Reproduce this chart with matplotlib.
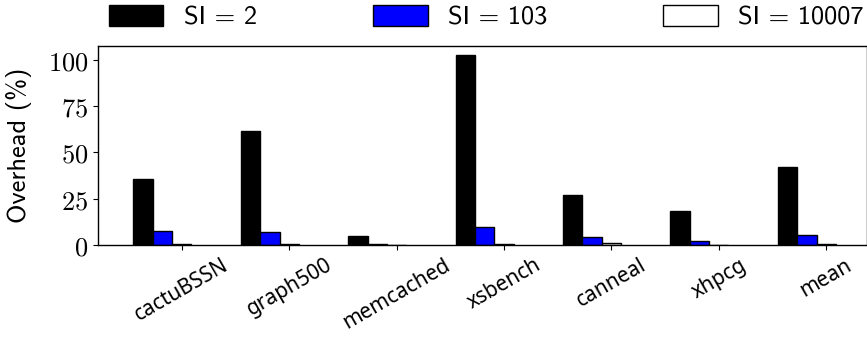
import numpy as np
import matplotlib
matplotlib.use("Agg")
import matplotlib.pyplot as plt

plt.rcParams["mathtext.fontset"] = "cm"
plt.rcParams["font.family"] = ["Noto Sans", "DejaVu Sans"]

benchmarks = ["cactuBSSN", "graph500", "memcached", "xsbench", "canneal", "xhpcg", "mean"]
si_2 = [35.5, 61.8, 5.0, 102.5, 27.2, 18.5, 42.0]
si_103 = [7.4, 7.0, 0.4, 9.9, 4.1, 2.3, 5.2]
si_10007 = [0.3, 0.5, 0.2, 0.3, 0.9, 0.2, 0.3]
series_values = [2, 103, 10007]
y_ticks = [0, 25, 50, 75, 100]

fig = plt.figure(figsize=(8.67, 3.39), dpi=100)
ax = fig.add_axes([98 / 867, 1 - 245 / 339, 769 / 867, 199 / 339])

x = np.arange(len(benchmarks))
w = 0.18
colors = ["black", "blue", "white"]
for k, (vals, si, c) in enumerate(zip([si_2, si_103, si_10007], series_values, colors)):
    ax.bar(x + (k - 2) * w, vals, width=w, color=c, edgecolor="black",
           linewidth=1.0, label=f"SI = {si}")

ax.set_xlim(-0.78, 6.38)
ax.set_ylim(0, 107.5)
ax.set_yticks(y_ticks)
ax.set_yticklabels([rf"${v}$" for v in y_ticks], fontsize=19)
ax.set_xticks(x)
ax.set_xticklabels(benchmarks, rotation=30, ha="center", fontsize=15)
ax.set_ylabel("Overhead (%)", fontsize=19, family="cmss10")
ax.yaxis.set_label_coords(-66 / 769, 0.5)
for s in ax.spines.values():
    s.set_linewidth(1.0)

ax.legend(loc="center left", bbox_to_anchor=(98 / 867, 1 - 17.5 / 339),
          bbox_transform=fig.transFigure, ncol=3, frameon=False,
          prop={"family": "cmss10", "size": 19},
          handlelength=2.08, handleheight=0.8, handletextpad=0.76,
          columnspacing=4.4, borderaxespad=0.0)

fig.savefig("out.png", dpi=100)
